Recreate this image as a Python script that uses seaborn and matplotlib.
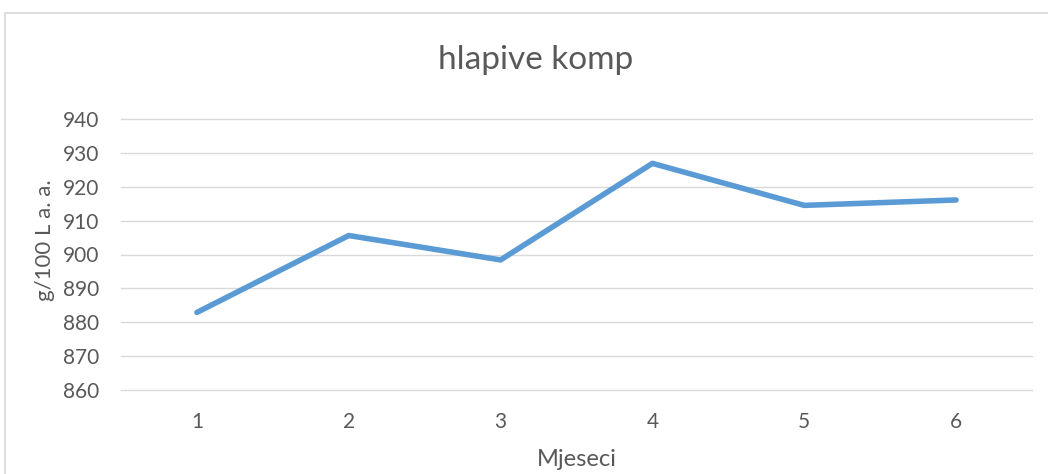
import matplotlib
matplotlib.use("Agg")
import matplotlib.pyplot as plt
import seaborn as sns
import pandas as pd
from matplotlib.patches import Rectangle

months = [1, 2, 3, 4, 5, 6]
values = [882.9, 905.6, 898.4, 926.9, 914.5, 916.1]
yticks = [860, 870, 880, 890, 900, 910, 920, 930, 940]
title = "hlapive komp"
xlabel = "Mjeseci"
ylabel = "g/100 L a. a."

sns.set_theme(style="white")
plt.rcParams['font.family'] = ['Lato', 'DejaVu Sans']

txt = "#595959"
grid = "#d9d9d9"
blue = "#5b9bd5"

fig = plt.figure(figsize=(10.48, 4.74), dpi=100)
fig.patches.append(Rectangle((5/1048, -0.1), 1.2, 1 - 13/474 + 0.1, transform=fig.transFigure,
                             fill=False, edgecolor=grid, linewidth=1.2, zorder=0))

ax = fig.add_axes([121/1048, 1 - 390/474, (1032 - 121)/1048, (390 - 119)/474])
df = pd.DataFrame({"x": months, "y": values})
sns.lineplot(data=df, x="x", y="y", ax=ax, color=blue, linewidth=4.0,
             solid_capstyle="round", solid_joinstyle="round")

ax.set_xlim(0.5, 6.5)
ax.set_ylim(860, 940)
ax.set_yticks(yticks)
ax.set_xticks(months)
ax.set_xticklabels([str(m) for m in months])
ax.yaxis.grid(True, color=grid, linewidth=1.0)
ax.xaxis.grid(False)
for gl in ax.get_ygridlines():
    gl.set_clip_on(False)
for s in ax.spines.values():
    s.set_visible(False)
ax.tick_params(axis="both", length=0, labelsize=15, colors=txt)
ax.tick_params(axis="y", pad=16)
ax.tick_params(axis="x", pad=16)
ax.set_xlabel(xlabel, fontsize=17, color=txt, va="center")
ax.xaxis.set_label_coords(0.5, (390 - 460) / 271)
ax.set_ylabel(ylabel, fontsize=16, color=txt, va="center", ha="center")
ax.yaxis.set_label_coords((45 - 121) / 911, (390 - 240) / 271)
fig.text(536/1048, 1 - 60/474, title, ha="center", va="center", fontsize=24, color=txt)

fig.savefig("out.png", dpi=100)
